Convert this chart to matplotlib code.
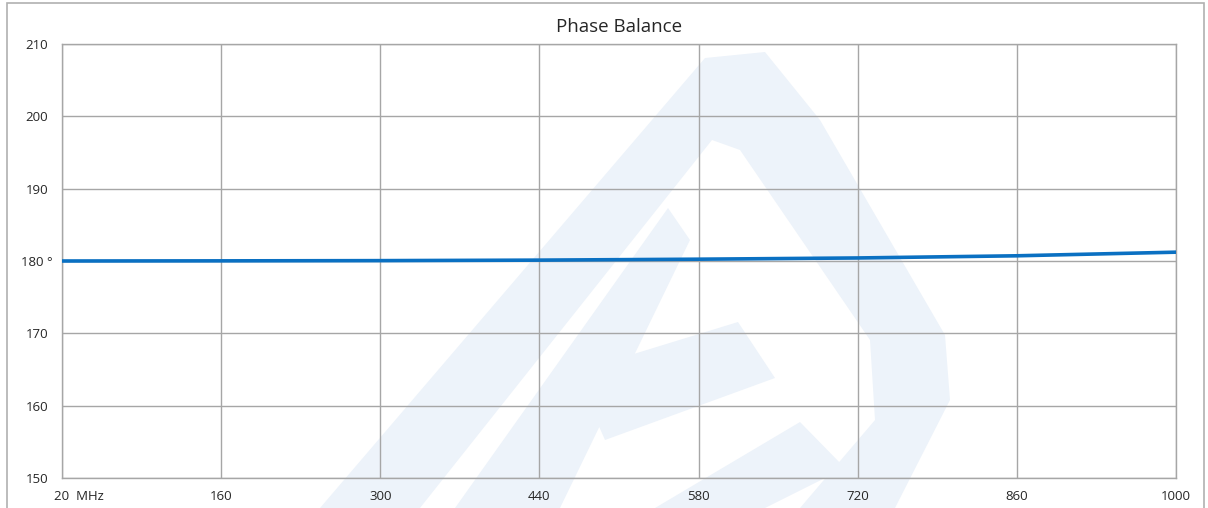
import matplotlib
matplotlib.use("Agg")
import matplotlib.pyplot as plt
import matplotlib.transforms as mtransforms
from matplotlib.patches import Polygon, Rectangle

# phase balance readings (deg) at the grid frequencies (MHz)
freq_mhz = [20, 160, 300, 440, 580, 720, 860, 1000]
phase_deg = [180.0, 180.02, 180.05, 180.12, 180.25, 180.42, 180.72, 181.22]

x_ticks = [20, 160, 300, 440, 580, 720, 860, 1000]
x_labels = ["20  MHz", "160", "300", "440", "580", "720", "860", "1000"]
y_ticks = [150, 160, 170, 180, 190, 200, 210]
y_labels = ["150", "160", "170", "180 \u00b0", "190", "200", "210"]

W, H = 1208, 508
GRID = "#a6a6a6"
TEXT = "#262626"
LINE = "#0a70c2"
WATER = "#edf3fa"

plt.rcParams["font.family"] = ["Open Sans", "DejaVu Sans"]

fig = plt.figure(figsize=(W / 100, H / 100), dpi=100)
ax = fig.add_axes([62 / W, 1 - 478 / H, (1176 - 62) / W, (478 - 44) / H])
ax.set_zorder(2)


def px(x, y):
    return (x / W, 1 - y / H)


# faint logo watermark behind the plot
wm = [
    [(320, 508), (705, 58), (765, 52), (820, 120), (945, 335), (950, 400), (895, 508), (800, 508),
     (875, 420), (870, 340), (740, 150), (712, 140), (420, 508)],
    [(455, 508), (668, 208), (690, 240), (560, 508)],
    [(575, 372), (738, 322), (775, 378), (605, 440)],
    [(655, 508), (800, 422), (845, 468), (765, 508)],
]
for pts in wm:
    fig.patches.append(Polygon([px(*p) for p in pts], closed=True, transform=fig.transFigure,
                               facecolor=WATER, edgecolor="none", zorder=1))

# outer frame
fig.patches.append(Rectangle(px(7, 520), (1204 - 7) / W, (520 - 3) / H, transform=fig.transFigure,
                             facecolor="none", edgecolor="#b0b0b0", lw=1.2, zorder=1))

ax.patch.set_alpha(0)
ax.plot(freq_mhz, phase_deg, color=LINE, lw=2.6, zorder=3)

ax.set_xlim(20, 1000)
ax.set_ylim(150, 210)
ax.set_xticks(x_ticks)
ax.set_xticklabels(x_labels)
ax.set_yticks(y_ticks)
ax.set_yticklabels(y_labels)
ax.grid(True, color=GRID, lw=1.0)
ax.set_axisbelow(True)
for s in ax.spines.values():
    s.set_color(GRID)
    s.set_linewidth(1.0)
ax.tick_params(length=0, labelsize=9.5, labelcolor=TEXT)
ax.tick_params(axis="x", pad=9)
ax.tick_params(axis="y", pad=10)

# first x label starts at the axis, "180 °" sticks out a bit to the right
lab0 = ax.get_xticklabels()[0]
lab0.set_ha("left")
lab0.set_transform(lab0.get_transform() + mtransforms.ScaledTranslation(-8 / 100, 0, fig.dpi_scale_trans))
lab180 = ax.get_yticklabels()[3]
lab180.set_transform(lab180.get_transform() + mtransforms.ScaledTranslation(5 / 100, 0, fig.dpi_scale_trans))

fig.text(0.5 * (62 + 1176) / W, 1 - 27 / H, "Phase Balance", ha="center", va="center",
         fontsize=13.5, color=TEXT)

fig.savefig("out.png", dpi=100)
